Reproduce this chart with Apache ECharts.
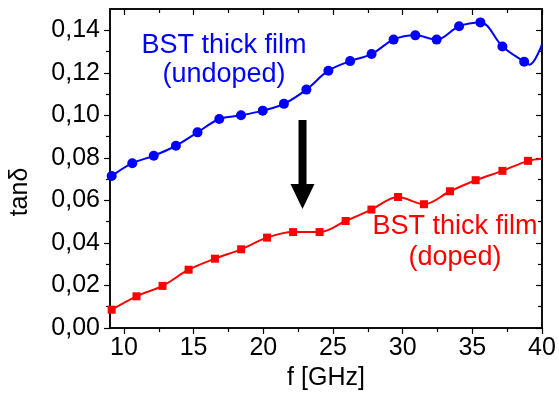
<!DOCTYPE html>
<html><head><meta charset="utf-8">
<script src="https://cdn.jsdelivr.net/npm/echarts@6/dist/echarts.min.js"></script>
<style>html,body{margin:0;padding:0;background:#fff}#c{width:559px;height:396px}</style>
</head><body><div id="c"></div>
<script>
// Undoped BST thick film (blue, circles)
const undopedFreq = [9.12, 10.6, 12.14, 13.73, 15.28, 16.84, 18.40, 19.96, 21.48, 23.09, 24.67, 26.23, 27.77, 29.35, 30.91, 32.44, 34.05, 35.58, 37.16, 38.72];
const undopedTan  = [0.0715, 0.0775, 0.081, 0.0857, 0.092, 0.0983, 0.1000, 0.1022, 0.1054, 0.1121, 0.121, 0.1255, 0.1288, 0.1356, 0.1376, 0.1356, 0.1419, 0.1437, 0.1324, 0.1252];
// curve-only points (no marker)
const undopedCurveFreq = [9.0, 39.1, 40.0];
const undopedCurveTan  = [0.0705, 0.1238, 0.1334];

// Doped BST thick film (red, squares)
const dopedFreq = [9.12, 10.9, 12.77, 14.64, 16.53, 18.41, 20.27, 22.14, 24.04, 25.91, 27.76, 29.67, 31.53, 33.4, 35.24, 37.16, 39.0];
const dopedTan  = [0.0086, 0.0149, 0.0198, 0.0274, 0.0326, 0.037, 0.0425, 0.0451, 0.0451, 0.0503, 0.0557, 0.0616, 0.0582, 0.0643, 0.0695, 0.0739, 0.0786];
const dopedCurveFreq = [40.0];
const dopedCurveTan  = [0.0796];

const xMajor = [10, 15, 20, 25, 30, 35, 40];
const xMinor = [12.5, 17.5, 22.5, 27.5, 32.5, 37.5];
const yMajor = [0, 0.02, 0.04, 0.06, 0.08, 0.10, 0.12, 0.14];
const yMinor = [0.01, 0.03, 0.05, 0.07, 0.09, 0.11, 0.13];

const FONT = 'Liberation Sans, Arial, sans-serif';
const fmt = v => Number(v).toFixed(2).replace('.', ',');

function buildData(fx, fy, cx, cy) {
  const pts = fx.map((x, i) => ({ value: [x, fy[i]] }));
  cx.forEach((x, i) => pts.push({ value: [x, cy[i]], symbol: 'none' }));
  pts.sort((a, b) => a.value[0] - b.value[0]);
  return pts;
}

const black = { color: '#000', width: 1.5 };
function xAx(pos, ticks, len, inside, labels) {
  return {
    type: 'value', position: pos, min: 9, max: 40,
    axisLine: { show: true, onZero: false, lineStyle: black },
    axisTick: { show: true, inside: inside, length: len, customValues: ticks, lineStyle: { color: '#000', width: 1.2 } },
    axisLabel: labels ? { show: true, customValues: ticks, fontSize: 25, color: '#000', fontFamily: FONT, margin: 8 } : { show: false },
    splitLine: { show: false }, minorTick: { show: false }
  };
}
function yAx(pos, ticks, len, inside, labels) {
  return {
    type: 'value', position: pos, min: 0, max: 0.15,
    axisLine: { show: true, onZero: false, lineStyle: black },
    axisTick: { show: true, inside: inside, length: len, customValues: ticks, lineStyle: { color: '#000', width: 1.2 } },
    axisLabel: labels ? { show: true, customValues: ticks, fontSize: 25, color: '#000', fontFamily: FONT, margin: 10, formatter: fmt } : { show: false },
    splitLine: { show: false }, minorTick: { show: false }
  };
}

const xMain = xAx('bottom', xMajor, 6, false, true);
xMain.name = 'f [GHz]';
xMain.nameLocation = 'middle';
xMain.nameGap = 38;
xMain.nameTextStyle = { fontSize: 25, color: '#000', fontFamily: FONT };

const option = {
  animation: false,
  backgroundColor: '#fff',
  grid: { left: 110, right: 17, top: 9, bottom: 68, containLabel: false },
  xAxis: [
    xMain,
    xAx('bottom', xMinor, 4, false, false),
    xAx('top', xMajor, 6, true, false),
    xAx('top', xMinor, 4, true, false)
  ],
  yAxis: [
    yAx('left', yMajor, 6, false, true),
    yAx('left', yMinor, 4, false, false),
    yAx('right', yMajor, 6, true, false),
    yAx('right', yMinor, 4, true, false)
  ],
  series: [
    {
      type: 'line', xAxisIndex: 0, yAxisIndex: 0, smooth: 0.35, clip: true,
      data: buildData(undopedFreq, undopedTan, undopedCurveFreq, undopedCurveTan),
      symbol: 'circle', symbolSize: 10, showAllSymbol: true,
      itemStyle: { color: '#0000ff' }, lineStyle: { color: '#0000ff', width: 2 }
    },
    {
      type: 'line', xAxisIndex: 0, yAxisIndex: 0, smooth: 0.35, clip: true,
      data: buildData(dopedFreq, dopedTan, dopedCurveFreq, dopedCurveTan),
      symbol: 'rect', symbolSize: 8, showAllSymbol: true,
      itemStyle: { color: '#ff0000' }, lineStyle: { color: '#ff0000', width: 2 }
    }
  ],
  graphic: [
    { type: 'text', style: { text: 'BST thick film\n(undoped)', x: 224, y: 31, align: 'center', verticalAlign: 'top', fontSize: 27, lineHeight: 29, fill: '#0000ff', fontFamily: FONT } },
    { type: 'text', style: { text: 'BST thick film\n(doped)', x: 455, y: 211, align: 'center', verticalAlign: 'top', fontSize: 27, lineHeight: 31, fill: '#ff0000', fontFamily: FONT } },
    { type: 'text', rotation: Math.PI / 2, x: 20, y: 192, style: { text: 'tanδ', x: 0, y: 0, align: 'center', verticalAlign: 'middle', fontSize: 25, fill: '#000', fontFamily: FONT } },
    { type: 'polygon', shape: { points: [[298.5,120],[306.5,120],[306.5,184],[314.5,184],[302.5,209],[290.5,184],[298.5,184]] }, style: { fill: '#000' } }
  ]
};

const chart = echarts.init(document.getElementById('c'), null, { renderer: 'canvas' });
chart.setOption(option);
</script>
</body></html>
